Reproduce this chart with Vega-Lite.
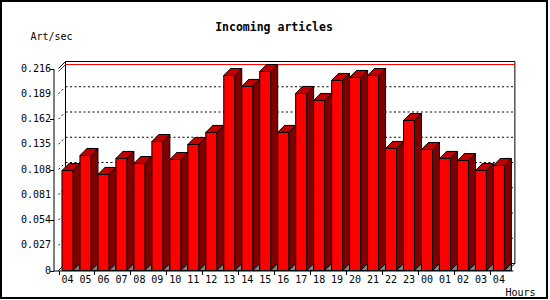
{
  "$schema": "https://vega.github.io/schema/vega-lite/v6.json",
  "width": 546,
  "height": 297,
  "autosize": {"type": "none"},
  "padding": {"left": 1, "top": 1, "right": 3, "bottom": 2},
  "background": "white",
  "config": {
    "view": {"stroke": "black", "strokeWidth": 2, "fill": "white"}
  },
  "title": {"text": "Incoming articles", "frame": "group", "anchor": "middle", "orient": "top", "baseline": "middle", "offset": -38, "font": "DejaVu Sans Mono", "fontSize": 11.5, "fontWeight": "bold", "color": "black"},
  "datasets": {
    "hourly": [
      {"slot": 0, "hour": "04", "rate": 0.1069},
      {"slot": 1, "hour": "05", "rate": 0.1230},
      {"slot": 2, "hour": "06", "rate": 0.1027},
      {"slot": 3, "hour": "07", "rate": 0.1198},
      {"slot": 4, "hour": "08", "rate": 0.1144},
      {"slot": 5, "hour": "09", "rate": 0.1379},
      {"slot": 6, "hour": "10", "rate": 0.1187},
      {"slot": 7, "hour": "11", "rate": 0.1347},
      {"slot": 8, "hour": "12", "rate": 0.1476},
      {"slot": 9, "hour": "13", "rate": 0.2085},
      {"slot": 10, "hour": "14", "rate": 0.1968},
      {"slot": 11, "hour": "15", "rate": 0.2128},
      {"slot": 12, "hour": "16", "rate": 0.1476},
      {"slot": 13, "hour": "17", "rate": 0.1893},
      {"slot": 14, "hour": "18", "rate": 0.1818},
      {"slot": 15, "hour": "19", "rate": 0.2032},
      {"slot": 16, "hour": "20", "rate": 0.2064},
      {"slot": 17, "hour": "21", "rate": 0.2085},
      {"slot": 18, "hour": "22", "rate": 0.1305},
      {"slot": 19, "hour": "23", "rate": 0.1604},
      {"slot": 20, "hour": "00", "rate": 0.1294},
      {"slot": 21, "hour": "01", "rate": 0.1198},
      {"slot": 22, "hour": "02", "rate": 0.1176},
      {"slot": 23, "hour": "03", "rate": 0.1069},
      {"slot": 24, "hour": "04", "rate": 0.1123}
    ],
    "levels": [
      {"level": 0}, {"level": 0.027}, {"level": 0.054}, {"level": 0.081}, {"level": 0.108},
      {"level": 0.135}, {"level": 0.162}, {"level": 0.189}, {"level": 0.216}
    ]
  },
  "data": {"name": "hourly"},
  "layer": [
    {
      "data": {"values": [{}]},
      "mark": {"type": "rect", "fill": "white", "stroke": "black", "strokeWidth": 1, "xOffset": 7, "x2Offset": 7, "yOffset": -7, "y2Offset": -7, "clip": false},
      "encoding": {
        "x": {"datum": -0.5, "type": "quantitative", "title": "Hours"},
        "x2": {"datum": 24.5},
        "y": {"datum": 0, "type": "quantitative", "title": "Art/sec"},
        "y2": {"datum": 0.216}
      }
    },
    {
      "data": {"name": "levels"},
      "transform": [{"filter": "datum.level > 0 && datum.level < 0.2"}],
      "mark": {"type": "rule", "stroke": "black", "strokeWidth": 1, "strokeDash": [2, 2.5], "xOffset": 7, "x2Offset": 7, "yOffset": -7, "clip": false},
      "encoding": {
        "x": {"datum": -0.5, "type": "quantitative", "title": "Hours"},
        "x2": {"datum": 24.5},
        "y": {"field": "level", "type": "quantitative", "title": "Art/sec"}
      }
    },
    {
      "data": {"name": "levels"},
      "transform": [{"filter": "datum.level > 0 && datum.level < 0.2"}],
      "mark": {"type": "rule", "stroke": "black", "strokeWidth": 1, "strokeDash": [2, 2.5], "x2Offset": 7, "y2Offset": -7, "clip": false},
      "encoding": {
        "x": {"datum": -0.5, "type": "quantitative", "title": "Hours"},
        "x2": {"datum": -0.5},
        "y": {"field": "level", "type": "quantitative", "title": "Art/sec"},
        "y2": {"field": "level"}
      }
    },
    {
      "data": {"values": [{}]},
      "mark": {"type": "rule", "stroke": "black", "strokeWidth": 1, "x2Offset": 7, "y2Offset": -7, "clip": false},
      "encoding": {
        "x": {"datum": -0.5, "type": "quantitative", "title": "Hours"},
        "x2": {"datum": -0.5},
        "y": {"datum": 0.216, "type": "quantitative", "title": "Art/sec"},
        "y2": {"datum": 0.216}
      }
    },
    {
      "data": {"values": [{}]},
      "mark": {"type": "rule", "stroke": "black", "strokeWidth": 1, "x2Offset": 7, "y2Offset": -7, "clip": false},
      "encoding": {
        "x": {"datum": -0.5, "type": "quantitative", "title": "Hours"},
        "x2": {"datum": -0.5},
        "y": {"datum": 0, "type": "quantitative", "title": "Art/sec"},
        "y2": {"datum": 0}
      }
    },
    {
      "data": {"values": [{}]},
      "mark": {"type": "rule", "stroke": "black", "strokeWidth": 1, "x2Offset": 7, "y2Offset": -7, "clip": false},
      "encoding": {
        "x": {"datum": 24.5, "type": "quantitative", "title": "Hours"},
        "x2": {"datum": 24.5},
        "y": {"datum": 0, "type": "quantitative", "title": "Art/sec"},
        "y2": {"datum": 0}
      }
    },
    {
      "transform": [{"aggregate": [{"op": "max", "field": "rate", "as": "peak"}]}],
      "layer": [
        {
          "mark": {"type": "rule", "stroke": "red", "strokeWidth": 1, "xOffset": 7, "x2Offset": 7, "yOffset": -7, "clip": false},
          "encoding": {
            "x": {"datum": -0.5, "type": "quantitative", "title": "Hours"},
            "x2": {"datum": 24.5},
            "y": {"field": "peak", "type": "quantitative", "title": "Art/sec"}
          }
        },
        {
          "mark": {"type": "rule", "stroke": "red", "strokeWidth": 1, "x2Offset": 7, "y2Offset": -7, "clip": false},
          "encoding": {
            "x": {"datum": -0.5, "type": "quantitative", "title": "Hours"},
            "x2": {"datum": -0.5},
            "y": {"field": "peak", "type": "quantitative", "title": "Art/sec"},
            "y2": {"field": "peak"}
          }
        }
      ]
    },
    {
      "mark": {"type": "bar", "orient": "vertical", "width": 11, "fill": "#800000", "stroke": "black", "strokeWidth": 1, "xOffset": 7, "yOffset": -7, "y2Offset": 0, "clip": false},
      "encoding": {
        "x": {"field": "slot", "type": "quantitative", "title": "Hours"},
        "y": {"field": "rate", "type": "quantitative", "title": "Art/sec"},
        "y2": {"datum": 0}
      }
    },
    {
      "mark": {"type": "point", "shape": "M5.5,0 L5.5,-7 L12.5,-7 Z", "size": 4, "filled": true, "fill": "#800000", "stroke": "#800000", "strokeWidth": 1, "opacity": 1, "clip": false},
      "encoding": {
        "x": {"field": "slot", "type": "quantitative", "title": "Hours"},
        "y": {"datum": 0, "type": "quantitative", "title": "Art/sec"}
      }
    },
    {
      "mark": {"type": "point", "shape": "M5.5,0 L12.5,-7 L12.5,0 Z", "size": 4, "filled": true, "fill": "#808080", "stroke": "black", "strokeWidth": 1, "opacity": 1, "clip": false},
      "encoding": {
        "x": {"field": "slot", "type": "quantitative", "title": "Hours"},
        "y": {"datum": 0, "type": "quantitative", "title": "Art/sec"}
      }
    },
    {
      "mark": {"type": "bar", "orient": "vertical", "width": 11, "fill": "#ff0000", "stroke": "black", "strokeWidth": 1, "clip": false},
      "encoding": {
        "x": {
          "field": "slot", "type": "quantitative", "title": "Hours",
          "scale": {"domain": [-0.5, 24.5], "range": [52.5, 511.875], "nice": false, "zero": false},
          "axis": {
            "values": [-0.5, 0.5, 1.5, 2.5, 3.5, 4.5, 5.5, 6.5, 7.5, 8.5, 9.5, 10.5, 11.5, 12.5, 13.5, 14.5, 15.5, 16.5, 17.5, 18.5, 19.5, 20.5, 21.5, 22.5, 23.5, 24.5],
            "labels": false,
            "offset": -27.5,
            "tickSize": 4, "tickColor": "black", "tickWidth": 1,
            "domainColor": "black", "domainWidth": 1,
            "grid": false,
            "titleFont": "DejaVu Sans Mono", "titleFontSize": 10, "titleFontWeight": "normal", "titleColor": "black",
            "titleX": 504, "titleY": 22.2, "titleAlign": "left", "titleBaseline": "middle", "titleAngle": 0,
            "zindex": 1
          }
        },
        "y": {
          "field": "rate", "type": "quantitative", "title": "Art/sec",
          "scale": {"domain": [0, 0.216], "range": [269.5, 67.5], "nice": false, "zero": true},
          "axis": {
            "values": [0, 0.027, 0.054, 0.081, 0.108, 0.135, 0.162, 0.189, 0.216],
            "labels": false,
            "offset": -52.5,
            "tickSize": 4, "tickColor": "black", "tickWidth": 1,
            "domainColor": "black", "domainWidth": 1,
            "grid": false,
            "titleFont": "DejaVu Sans Mono", "titleFontSize": 10, "titleFontWeight": "normal", "titleColor": "black",
            "titleAngle": 0, "titleX": -23.5, "titleY": 35.7, "titleAlign": "left", "titleBaseline": "middle",
            "zindex": 1
          }
        }
      }
    },
    {
      "mark": {"type": "point", "shape": "M-5.5,0 L5.5,0 L12.5,-7 L1.5,-7 Z", "size": 4, "filled": true, "fill": "#c00000", "stroke": "black", "strokeWidth": 1, "opacity": 1, "clip": false},
      "encoding": {
        "x": {"field": "slot", "type": "quantitative", "title": "Hours"},
        "y": {"field": "rate", "type": "quantitative", "title": "Art/sec"}
      }
    },
    {
      "mark": {"type": "text", "font": "DejaVu Sans Mono", "fontSize": 10, "color": "black", "align": "center", "baseline": "middle", "yOffset": 9.5, "clip": false},
      "encoding": {
        "x": {"field": "slot", "type": "quantitative", "title": "Hours"},
        "y": {"datum": 0, "type": "quantitative", "title": "Art/sec"},
        "text": {"field": "hour"}
      }
    },
    {
      "data": {"name": "levels"},
      "mark": {"type": "text", "font": "DejaVu Sans Mono", "fontSize": 10, "color": "black", "align": "right", "baseline": "middle", "xOffset": -7.5, "clip": false},
      "encoding": {
        "x": {"datum": -0.5, "type": "quantitative", "title": "Hours"},
        "y": {"field": "level", "type": "quantitative", "title": "Art/sec"},
        "text": {"field": "level", "type": "quantitative", "format": ".3~f"}
      }
    }
  ]
}
